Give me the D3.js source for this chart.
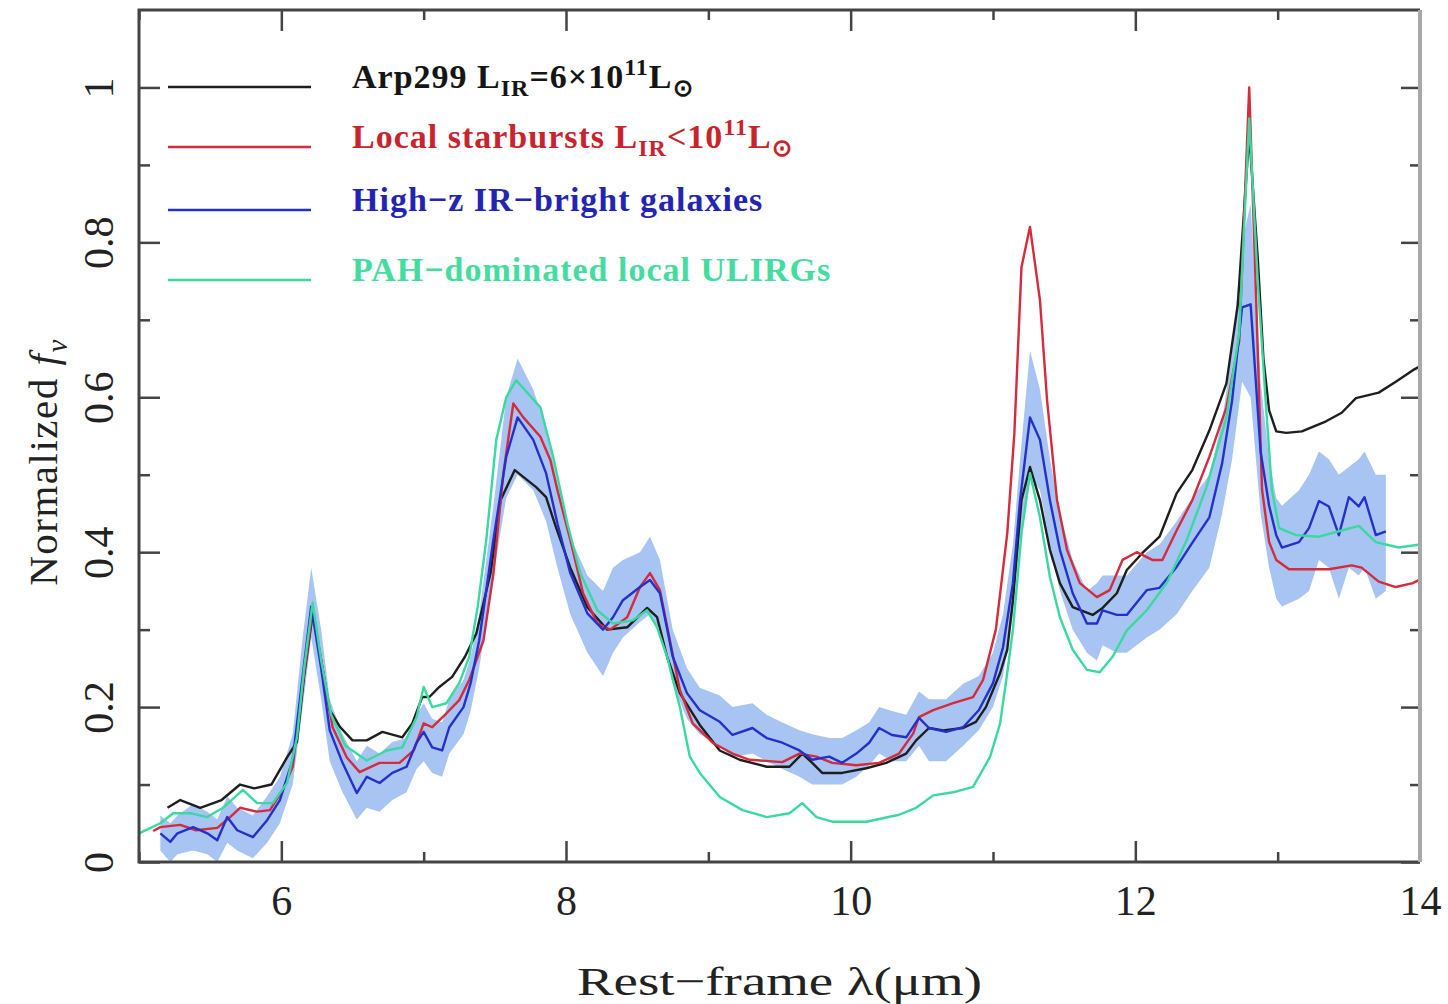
<!DOCTYPE html>
<html>
<head>
<meta charset="utf-8">
<script src="https://cdn.jsdelivr.net/npm/d3@7"></script>
<style>
body { margin: 0; background: #fff; }
text { font-family: "Liberation Serif", "Times New Roman", serif; }
</style>
</head>
<body>
<div id="chart"></div>
<script>
// spectra: rest wavelength (um) and normalized f_nu
var blackWave = [5.2,5.29,5.43,5.58,5.71,5.81,5.93,6.04,6.11,6.16,6.22,6.28,6.34,6.41,6.5,6.6,6.71,6.85,6.92,6.99,7.04,7.11,7.2,7.29,7.37,7.47,7.54,7.64,7.79,7.86,7.93,8.03,8.15,8.29,8.43,8.57,8.64,8.71,8.8,8.94,9.08,9.22,9.41,9.57,9.66,9.73,9.8,9.94,10.11,10.25,10.39,10.46,10.55,10.65,10.79,10.88,10.95,11.05,11.1,11.14,11.2,11.26,11.33,11.4,11.47,11.56,11.7,11.77,11.87,11.94,12.05,12.17,12.29,12.4,12.52,12.64,12.72,12.8,12.86,12.9,12.94,12.99,13.06,13.17,13.34,13.45,13.55,13.71,13.83,13.95,14.0];
var blackFlux = [0.07,0.08,0.07,0.08,0.10,0.095,0.10,0.135,0.155,0.24,0.32,0.26,0.196,0.175,0.157,0.157,0.168,0.161,0.179,0.213,0.213,0.226,0.239,0.265,0.295,0.373,0.467,0.506,0.484,0.471,0.432,0.38,0.329,0.30,0.303,0.328,0.316,0.265,0.218,0.177,0.144,0.132,0.123,0.123,0.14,0.128,0.115,0.115,0.121,0.128,0.14,0.157,0.173,0.17,0.173,0.181,0.20,0.244,0.274,0.338,0.467,0.51,0.467,0.403,0.36,0.329,0.319,0.328,0.347,0.377,0.399,0.42,0.476,0.506,0.557,0.618,0.72,0.94,0.78,0.65,0.583,0.556,0.554,0.556,0.569,0.58,0.599,0.606,0.62,0.635,0.64];

var redWave = [5.1,5.15,5.29,5.4,5.55,5.64,5.71,5.83,5.92,6.01,6.08,6.15,6.22,6.29,6.36,6.46,6.55,6.69,6.83,6.93,7.0,7.06,7.16,7.25,7.32,7.42,7.49,7.56,7.63,7.7,7.82,7.89,7.94,8.03,8.12,8.22,8.31,8.43,8.52,8.59,8.66,8.73,8.8,8.89,9.03,9.17,9.29,9.52,9.64,9.76,9.87,10.04,10.2,10.34,10.44,10.48,10.58,10.72,10.86,10.93,11.02,11.1,11.15,11.2,11.26,11.33,11.38,11.45,11.52,11.61,11.73,11.82,11.91,12.01,12.12,12.19,12.29,12.4,12.52,12.64,12.73,12.8,12.85,12.89,12.94,12.99,13.08,13.36,13.52,13.59,13.71,13.83,13.95,14.0];
var redFlux = [0.04,0.045,0.048,0.041,0.044,0.058,0.07,0.065,0.067,0.093,0.123,0.23,0.325,0.25,0.174,0.135,0.116,0.128,0.128,0.144,0.179,0.174,0.192,0.209,0.235,0.286,0.372,0.502,0.592,0.574,0.549,0.519,0.48,0.416,0.347,0.308,0.30,0.316,0.355,0.373,0.351,0.286,0.222,0.179,0.154,0.14,0.132,0.129,0.14,0.136,0.128,0.125,0.128,0.14,0.166,0.187,0.196,0.205,0.213,0.235,0.30,0.424,0.553,0.768,0.82,0.725,0.596,0.467,0.403,0.36,0.342,0.351,0.39,0.40,0.39,0.39,0.428,0.467,0.523,0.587,0.673,1.0,0.72,0.481,0.413,0.39,0.378,0.378,0.383,0.38,0.362,0.355,0.36,0.365];

var blueWave = [5.15,5.22,5.27,5.38,5.48,5.55,5.62,5.69,5.8,5.9,5.99,6.08,6.15,6.21,6.28,6.34,6.43,6.53,6.6,6.69,6.78,6.88,6.95,7.0,7.06,7.13,7.18,7.28,7.33,7.39,7.49,7.58,7.66,7.77,7.86,7.94,8.03,8.15,8.26,8.33,8.4,8.52,8.59,8.66,8.75,8.85,8.94,9.08,9.17,9.31,9.41,9.52,9.64,9.73,9.85,9.94,10.04,10.13,10.2,10.29,10.39,10.48,10.55,10.67,10.79,10.9,11.0,11.07,11.14,11.19,11.26,11.33,11.4,11.47,11.56,11.66,11.73,11.77,11.87,11.94,12.08,12.17,12.29,12.4,12.52,12.61,12.68,12.75,12.81,12.88,12.94,12.99,13.03,13.15,13.22,13.29,13.36,13.43,13.5,13.57,13.61,13.69,13.76];
var blueFlux = [0.037,0.026,0.037,0.045,0.037,0.028,0.058,0.041,0.032,0.054,0.08,0.132,0.24,0.33,0.25,0.17,0.128,0.089,0.11,0.102,0.115,0.123,0.154,0.168,0.148,0.144,0.174,0.20,0.231,0.286,0.416,0.523,0.574,0.545,0.502,0.437,0.373,0.321,0.30,0.316,0.338,0.355,0.364,0.347,0.265,0.218,0.196,0.181,0.164,0.173,0.16,0.154,0.144,0.132,0.136,0.128,0.14,0.154,0.173,0.164,0.161,0.186,0.173,0.168,0.174,0.196,0.231,0.277,0.36,0.467,0.574,0.545,0.467,0.403,0.347,0.308,0.308,0.325,0.319,0.319,0.351,0.354,0.381,0.412,0.445,0.515,0.596,0.716,0.72,0.53,0.46,0.422,0.406,0.413,0.431,0.466,0.459,0.422,0.471,0.459,0.471,0.422,0.427];
// scatter band of the high-z sample
var blueLo = [0.015,0.0,0.01,0.015,0.01,0.0,0.025,0.015,0.005,0.025,0.05,0.10,0.20,0.29,0.21,0.13,0.09,0.055,0.07,0.065,0.08,0.09,0.12,0.13,0.115,0.11,0.14,0.165,0.195,0.25,0.37,0.47,0.50,0.48,0.44,0.38,0.32,0.27,0.24,0.27,0.29,0.31,0.32,0.30,0.23,0.185,0.165,0.15,0.135,0.14,0.13,0.12,0.11,0.10,0.10,0.10,0.11,0.125,0.14,0.13,0.13,0.15,0.13,0.13,0.15,0.17,0.20,0.24,0.32,0.42,0.50,0.48,0.41,0.35,0.30,0.27,0.26,0.28,0.27,0.27,0.29,0.30,0.32,0.35,0.38,0.45,0.52,0.62,0.60,0.45,0.38,0.34,0.33,0.34,0.35,0.39,0.38,0.34,0.38,0.37,0.38,0.34,0.35];
var blueHi = [0.06,0.05,0.06,0.075,0.065,0.055,0.085,0.07,0.06,0.085,0.11,0.165,0.29,0.38,0.30,0.21,0.165,0.13,0.15,0.14,0.155,0.16,0.19,0.205,0.185,0.18,0.21,0.235,0.265,0.32,0.46,0.60,0.65,0.61,0.56,0.49,0.42,0.37,0.35,0.38,0.39,0.40,0.42,0.39,0.30,0.25,0.225,0.215,0.20,0.205,0.19,0.18,0.17,0.165,0.16,0.16,0.17,0.18,0.20,0.195,0.19,0.22,0.21,0.21,0.23,0.24,0.27,0.32,0.41,0.52,0.66,0.61,0.52,0.45,0.39,0.35,0.36,0.37,0.37,0.37,0.40,0.41,0.44,0.47,0.50,0.57,0.66,0.80,0.85,0.62,0.52,0.47,0.46,0.48,0.50,0.53,0.52,0.50,0.51,0.52,0.53,0.50,0.50];

var greenWave = [5.0,5.15,5.24,5.36,5.48,5.59,5.73,5.83,5.94,6.04,6.11,6.16,6.22,6.28,6.35,6.45,6.6,6.74,6.85,6.95,7.0,7.06,7.16,7.25,7.32,7.38,7.44,7.51,7.58,7.65,7.82,7.91,8.01,8.1,8.22,8.33,8.47,8.57,8.64,8.71,8.8,8.87,8.94,9.08,9.24,9.41,9.57,9.66,9.76,9.87,10.11,10.34,10.46,10.58,10.72,10.86,10.98,11.05,11.1,11.14,11.2,11.26,11.33,11.4,11.47,11.56,11.66,11.75,11.84,11.94,12.08,12.22,12.36,12.5,12.64,12.73,12.8,12.86,12.92,12.96,13.01,13.13,13.29,13.43,13.57,13.69,13.85,14.0];
var greenFlux = [0.037,0.05,0.063,0.063,0.058,0.07,0.093,0.076,0.076,0.102,0.161,0.25,0.335,0.26,0.19,0.15,0.131,0.144,0.148,0.187,0.226,0.20,0.205,0.231,0.265,0.33,0.416,0.545,0.60,0.622,0.587,0.523,0.437,0.373,0.325,0.308,0.312,0.325,0.303,0.265,0.20,0.136,0.115,0.084,0.067,0.058,0.063,0.076,0.058,0.052,0.052,0.061,0.07,0.086,0.09,0.097,0.136,0.179,0.244,0.30,0.424,0.502,0.445,0.368,0.316,0.274,0.248,0.245,0.265,0.299,0.325,0.36,0.415,0.484,0.574,0.683,0.96,0.75,0.583,0.48,0.431,0.422,0.42,0.427,0.434,0.413,0.406,0.41];

var xMajor = [6, 8, 10, 12, 14];
var xMinor = [5, 7, 9, 11, 13];
var yMajor = [0, 0.2, 0.4, 0.6, 0.8, 1];
var yMinor = [0.1, 0.3, 0.5, 0.7, 0.9];

var legendLabels = [
  [["Arp299 L", ""], ["IR", "sub"], ["=6×10", ""], ["11", "sup"], ["L", ""], ["⊙", "sub"]],
  [["Local starbursts L", ""], ["IR", "sub"], ["<10", ""], ["11", "sup"], ["L", ""], ["⊙", "sub"]],
  [["High−z IR−bright galaxies", ""]],
  [["PAH−dominated local ULIRGs", ""]]
];
var colors = ["#1e1e1e", "#d42c3c", "#2530c8", "#3ad9a0"];
var textColors = ["#151515", "#c8242e", "#2424b4", "#45dca0"];

// set the dimensions and margins of the graph
var margin = {top: 10, right: 28, bottom: 142, left: 139},
    width = 1448 - margin.left - margin.right,
    height = 1004 - margin.top - margin.bottom;

var x = d3.scaleLinear().domain([5, 14]).range([0, width]);
var y = d3.scaleLinear().domain([0, 1.1]).range([height, 0]);

var svg = d3.select("#chart").append("svg")
    .attr("width", width + margin.left + margin.right)
    .attr("height", height + margin.top + margin.bottom)
  .append("g")
    .attr("transform", "translate(" + margin.left + "," + margin.top + ")");

svg.append("clipPath").attr("id", "plotclip")
  .append("rect").attr("width", width).attr("height", height);

var plot = svg.append("g").attr("clip-path", "url(#plotclip)");

// band for high-z galaxies
var band = d3.zip(blueWave, blueLo, blueHi);
plot.append("path")
    .datum(band)
    .attr("fill", "#a7c4f3")
    .attr("d", d3.area()
        .x(function(d) { return x(d[0]); })
        .y0(function(d) { return y(d[1]); })
        .y1(function(d) { return y(d[2]); }));

var line = d3.line()
    .x(function(d) { return x(d[0]); })
    .y(function(d) { return y(d[1]); });

var series = [
  d3.zip(blackWave, blackFlux),
  d3.zip(redWave, redFlux),
  d3.zip(blueWave, blueFlux),
  d3.zip(greenWave, greenFlux)
];

series.forEach(function(s, i) {
  plot.append("path")
      .datum(s)
      .attr("fill", "none")
      .attr("stroke", colors[i])
      .attr("stroke-width", 2.4)
      .attr("stroke-linejoin", "round")
      .attr("d", line);
});

// axes, ticks pointing inward
function styleAxis(g) {
  g.select(".domain").remove();
  g.selectAll(".tick line").attr("stroke", "#444").attr("stroke-width", 2.5);
  g.selectAll("text").attr("fill", "#222").style("font-size", "42px");
}

svg.append("g")
    .attr("transform", "translate(0," + height + ")")
    .call(d3.axisBottom(x).tickValues(xMajor).tickSize(-21).tickPadding(23).tickFormat(String))
    .call(styleAxis);
svg.append("g")
    .attr("transform", "translate(0," + height + ")")
    .call(d3.axisBottom(x).tickValues(xMinor).tickSize(-10).tickFormat(""))
    .call(styleAxis);
svg.append("g")
    .call(d3.axisTop(x).tickValues(xMajor).tickSize(-21).tickFormat(""))
    .call(styleAxis);
svg.append("g")
    .call(d3.axisTop(x).tickValues(xMinor).tickSize(-10).tickFormat(""))
    .call(styleAxis);

var yAxis = svg.append("g")
    .call(d3.axisLeft(y).tickValues(yMajor).tickSize(-21).tickFormat(String))
    .call(styleAxis);
yAxis.selectAll("text")
    .attr("x", 0)
    .attr("dy", 0)
    .attr("text-anchor", "middle")
    .attr("transform", "translate(-26,0) rotate(-90)");
svg.append("g")
    .call(d3.axisLeft(y).tickValues(yMinor).tickSize(-11).tickFormat(""))
    .call(styleAxis);
svg.append("g")
    .attr("transform", "translate(" + width + ",0)")
    .call(d3.axisRight(y).tickValues(yMajor).tickSize(-19).tickFormat(""))
    .call(styleAxis);
svg.append("g")
    .attr("transform", "translate(" + width + ",0)")
    .call(d3.axisRight(y).tickValues(yMinor).tickSize(-10).tickFormat(""))
    .call(styleAxis);

// frame
svg.append("path")
    .attr("d", "M" + width + ",0H0V" + height + "H" + width)
    .attr("fill", "none")
    .attr("stroke", "#444")
    .attr("stroke-width", 3);
svg.append("line")
    .attr("x1", width).attr("x2", width)
    .attr("y1", 0).attr("y2", height)
    .attr("stroke", "#a8a8a8")
    .attr("stroke-width", 4);

// axis titles
svg.append("text")
    .attr("x", width / 2)
    .attr("y", height + 133)
    .attr("text-anchor", "middle")
    .attr("textLength", 405)
    .attr("lengthAdjust", "spacingAndGlyphs")
    .style("font-size", "41px")
    .attr("fill", "#222")
    .text("Rest−frame λ(μm)");

var yt = svg.append("text")
    .attr("transform", "translate(-82," + (height / 2 + 26) + ") rotate(-90)")
    .attr("text-anchor", "middle")
    .style("font-size", "41px")
    .style("letter-spacing", "1.5px")
    .attr("fill", "#222");
yt.append("tspan").text("Normalized ");
yt.append("tspan").style("font-style", "italic").text("f");
yt.append("tspan").attr("dy", 10).style("font-size", "29px").style("font-style", "italic").text("ν");

// legend
var legendY = [77, 137, 200, 270];
var legend = svg.append("g").attr("class", "legend");

legendLabels.forEach(function(segs, i) {
  legend.append("line")
      .attr("x1", 29).attr("x2", 172)
      .attr("y1", legendY[i]).attr("y2", legendY[i])
      .attr("stroke", colors[i])
      .attr("stroke-width", 2.4);

  var t = legend.append("text")
      .attr("x", 213)
      .attr("y", legendY[i] + 1)
      .attr("fill", textColors[i])
      .style("font-size", "34px")
      .style("font-weight", "bold")
      .style("letter-spacing", "1px");

  var shift = 0;
  segs.forEach(function(s) {
    var target = s[1] === "sub" ? 8 : (s[1] === "sup" ? -13 : 0);
    t.append("tspan")
        .attr("dy", target - shift)
        .style("font-size", s[1] ? "24px" : null)
        .text(s[0]);
    shift = target;
  });
});
</script>
</body>
</html>
